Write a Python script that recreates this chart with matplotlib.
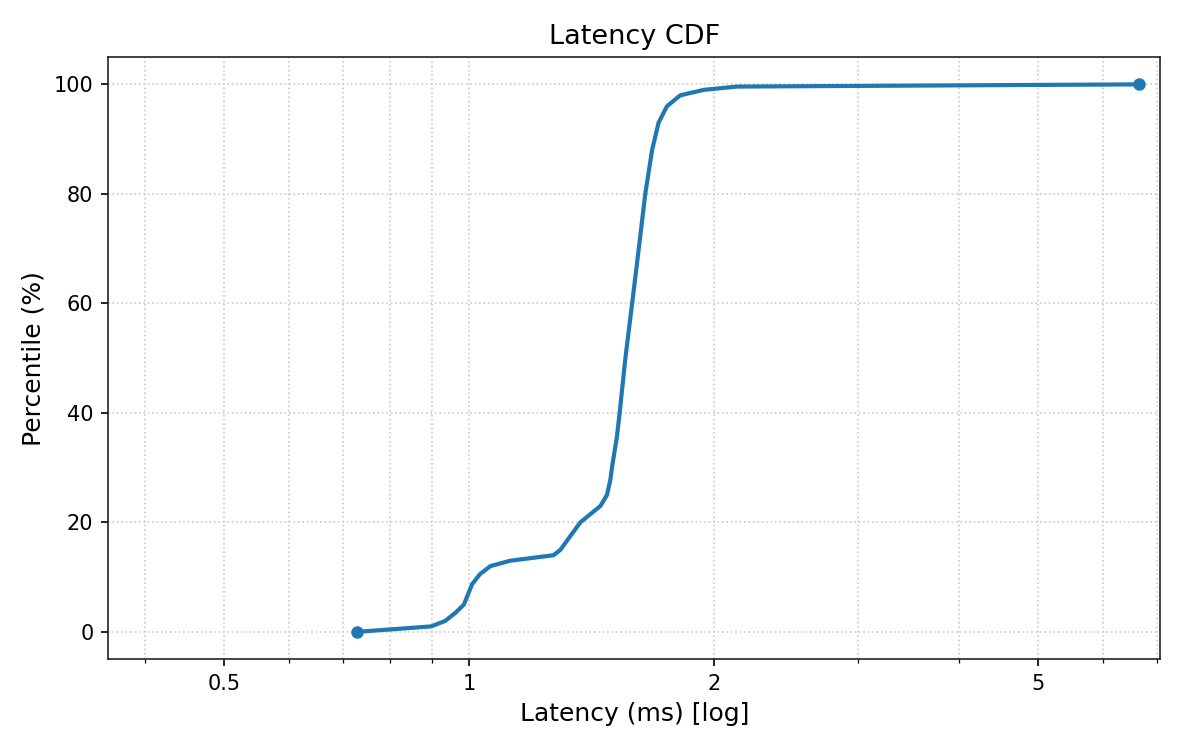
import numpy as np
import matplotlib
matplotlib.use('Agg')
import matplotlib.pyplot as plt
from matplotlib.ticker import LogLocator, FuncFormatter, NullFormatter

latency = [0.728, 0.898, 0.934, 0.962, 0.985, 1.008, 1.03, 1.061, 1.123,
           1.269, 1.294, 1.369, 1.449, 1.476, 1.490, 1.497, 1.518, 1.530,
           1.555, 1.585, 1.615, 1.645, 1.677, 1.708, 1.749, 1.816, 1.941,
           2.133, 6.64]
percentile = [0, 1, 2, 3.5, 5, 8.7, 10.5, 12, 13,
              14, 15, 20, 23, 25, 27.7, 30, 35.6, 40,
              50, 60, 70, 80, 88, 93, 96, 98, 99,
              99.6, 100]

fig, ax = plt.subplots(figsize=(8, 5), dpi=150)

ax.plot(latency, percentile, '-', color='#1f77b4', lw=2)
ax.plot([latency[0], latency[-1]], [percentile[0], percentile[-1]], 'o',
        color='#1f77b4', ms=5)

ax.set_xscale('log')
ax.set_xlim(0.360, 7.06)
ax.xaxis.set_major_locator(LogLocator(base=10, subs=(1.0, 2.0, 5.0)))
ax.xaxis.set_minor_locator(LogLocator(base=10, subs=(3.0, 4.0, 6.0, 7.0, 8.0, 9.0)))
ax.xaxis.set_major_formatter(FuncFormatter(lambda v, pos: '%g' % v))
ax.xaxis.set_minor_formatter(NullFormatter())

ax.grid(True, which='both', linestyle=':', color='#cccccc', lw=0.8)
for s in ax.spines.values():
    s.set_color('#222222')

ax.set_title('Latency CDF', fontsize=13)
ax.set_xlabel('Latency (ms) [log]', fontsize=12)
ax.set_ylabel('Percentile (%)', fontsize=12)

plt.subplots_adjust(left=0.09, right=0.967, top=0.924, bottom=0.121)
plt.savefig('out.png')
